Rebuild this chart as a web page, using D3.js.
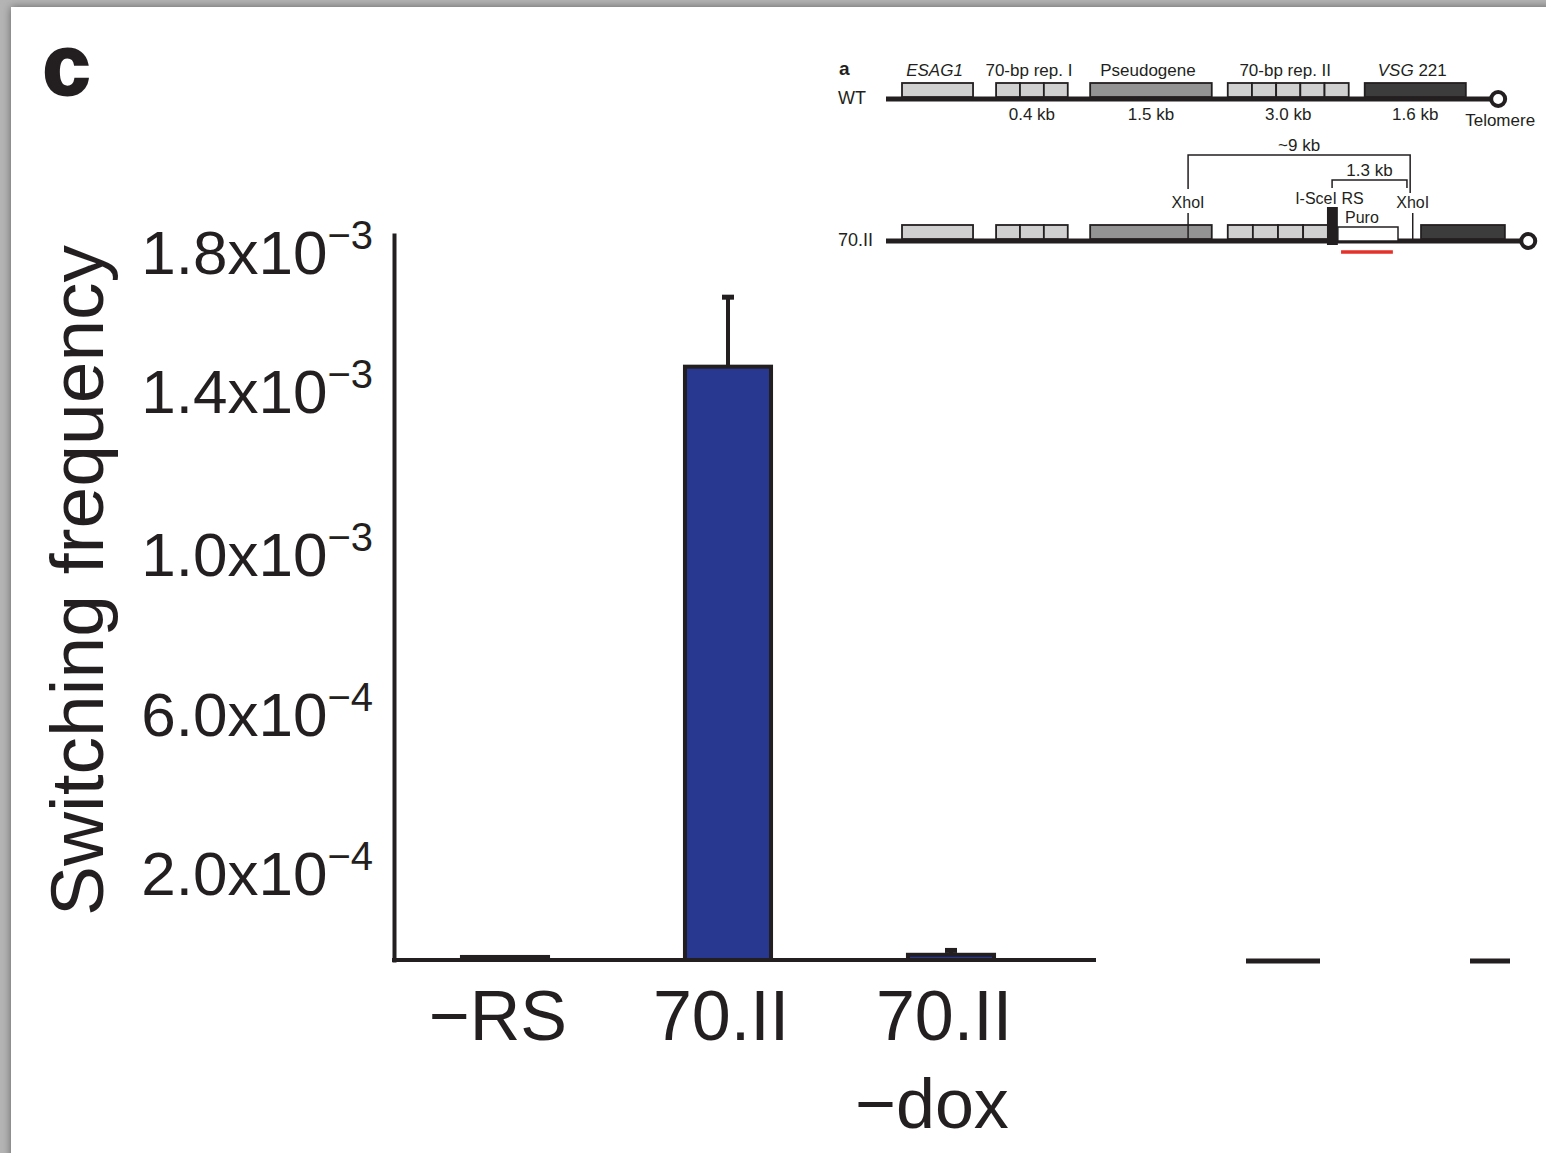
<!DOCTYPE html>
<html>
<head>
<meta charset="utf-8">
<script src="https://d3js.org/d3.v7.min.js"></script>
<style>
 body {margin:0; background:#b4b4b4; overflow:hidden;}
 svg {display:block; font-family:"Liberation Sans", Arial, Helvetica, sans-serif;}
</style>
</head>
<body>
<svg width=1546 height=1153></svg>
<script>

// panel c : bar chart
const categories = ["−RS", "70.II", "70.II −dox"];
const freqs = [0.7e-5, 1.47e-3, 1.2e-5];
const errs = [0, 2.0e-4, 1.0e-5];
const yTicks = [2e-4, 6e-4, 1.0e-3, 1.4e-3, 1.8e-3];
const yTickText = ["2.0", "6.0", "1.0", "1.4", "1.8"];
const yTickExp = ["−4", "−4", "−3", "−3", "−3"];

// panel a : locus map, positions in map units (0-100)
const featNames = ["ESAG1", "70-bp rep. I", "Pseudogene", "70-bp rep. II", "VSG 221"];
const featSizes = ["", "0.4 kb", "1.5 kb", "3.0 kb", "1.6 kb"];
const wtStart = [2.5, 17.2, 31.9, 53.4, 74.8];
const wtEnd = [13.6, 28.4, 50.9, 72.3, 90.6];
const wtCells = [1, 3, 1, 5, 1];
const mutStart = [2.5, 17.2, 31.9, 53.4, 83.6];
const mutEnd = [13.6, 28.4, 50.9, 69.1, 96.7];
const mutCells = [1, 3, 1, 4, 1];
const rowNames = ["WT", "70.II"];
const backboneEnd = [94.4, 99.1];
const sceI = [68.9, 70.6];
const puro = [70.6, 80.0];
const xhoI = [47.2, 82.3];
const probe = [71.1, 79.2];
const bracket9 = [47.2, 81.9];
const bracket13 = [69.7, 81.4];

const ink = "#231f20";
const svg = d3.select("svg");

// shadowed page
const defs = svg.append("defs");
const f = defs.append("filter").attr("id", "sh").attr("x", "-5%").attr("y", "-5%").attr("width", "110%").attr("height", "110%");
f.append("feDropShadow").attr("dx", 0).attr("dy", 0).attr("stdDeviation", 4).attr("flood-color", "#000").attr("flood-opacity", 0.45);
svg.append("rect").attr("x", 11).attr("y", 7).attr("width", 1600).attr("height", 1200)
  .attr("fill", "#fff").attr("filter", "url(#sh)");

svg.append("text").attr("x", 43).attr("y", 94).attr("font-size", 84).attr("font-weight", "bold")
  .attr("fill", ink).attr("stroke", ink).attr("stroke-width", 3).text("c");

// scales
const y = d3.scaleLinear()
  .domain([0, 2e-4, 6e-4, 1e-3, 1.4e-3, 1.8e-3, 1.85e-3])
  .range([960, 873, 714, 554, 391, 252, 235]);
const x = d3.scaleBand().domain(categories).range([393.5, 1062.5])
  .paddingInner(0.614).paddingOuter(0.307);

// bars
svg.append("g").selectAll("rect").data(categories).join("rect")
  .attr("x", d => x(d))
  .attr("width", x.bandwidth())
  .attr("y", (d, i) => y(freqs[i]))
  .attr("height", (d, i) => y(0) - y(freqs[i]))
  .attr("fill", "#283891").attr("stroke", ink).attr("stroke-width", 4);

// error bars
const eb = svg.append("g").selectAll("g").data(categories.filter((d, i) => errs[i] > 0)).join("g");
eb.append("line")
  .attr("x1", d => x(d) + x.bandwidth() / 2).attr("x2", d => x(d) + x.bandwidth() / 2)
  .attr("y1", d => y(freqs[categories.indexOf(d)]))
  .attr("y2", d => { const i = categories.indexOf(d); return y(freqs[i] + errs[i]); })
  .attr("stroke", ink).attr("stroke-width", 4);
eb.append("line")
  .attr("x1", d => x(d) + x.bandwidth() / 2 - 6).attr("x2", d => x(d) + x.bandwidth() / 2 + 6)
  .attr("y1", d => { const i = categories.indexOf(d); return y(freqs[i] + errs[i]); })
  .attr("y2", d => { const i = categories.indexOf(d); return y(freqs[i] + errs[i]); })
  .attr("stroke", ink).attr("stroke-width", 5);

// y axis
const ya = svg.append("g").attr("transform", "translate(394,0)")
  .call(d3.axisLeft(y).tickValues(yTicks).tickSize(0).tickSizeOuter(0).tickFormat(""));
ya.select(".domain").attr("stroke", ink).attr("stroke-width", 4).attr("stroke-linecap", "square");

svg.append("g").selectAll("text").data(yTicks).join("text")
  .attr("x", 373).attr("y", d => y(d) + 22)
  .attr("text-anchor", "end").attr("font-size", 62).attr("fill", ink)
  .each(function (d, i) {
    const t = d3.select(this);
    t.append("tspan").text(yTickText[i] + "x10");
    t.append("tspan").attr("dy", -25).attr("font-size", 40).text(yTickExp[i]);
  });

svg.append("text").attr("transform", "translate(103," + (y(0) + y.range()[6]) / 2 + ") rotate(-90)")
  .attr("y", 0).attr("x", 17)
  .attr("text-anchor", "middle").attr("font-size", 75).attr("fill", ink)
  .text("Switching frequency");

// x axis line and labels
svg.append("line").attr("x1", 392).attr("x2", 1096).attr("y1", y(0)).attr("y2", y(0))
  .attr("stroke", ink).attr("stroke-width", 4);
svg.append("g").selectAll("line").data([[1246, 1320], [1470, 1510]]).join("line")
  .attr("x1", d => d[0]).attr("x2", d => d[1]).attr("y1", y(0) + 1).attr("y2", y(0) + 1)
  .attr("stroke", ink).attr("stroke-width", 5);

svg.append("g").selectAll("text").data(categories).join("text")
  .attr("text-anchor", "middle").attr("font-size", 70).attr("fill", ink)
  .attr("y", 1040)
  .each(function (d) {
    const t = d3.select(this);
    const cx = x(d) + x.bandwidth() / 2 - 7;
    const parts = d === "70.II −dox" ? ["70.II", "−dox"] : [d];
    parts.forEach((p, k) => t.append("tspan").attr("x", k ? cx - 12 : cx).attr("dy", k ? 88 : 0).text(p));
  });

// ---- panel a : locus map inset ----
const mx = d3.scaleLinear().domain([0, 100]).range([886, 1526]);
const rowY = d3.scalePoint().domain(rowNames).range([99, 241]);
const fillOf = d3.scaleOrdinal().domain(featNames).range(["#d0d0d0", "#d0d0d0", "#939393", "#d0d0d0", "#3c3c3c"]);
const m = svg.append("g").attr("font-size", 17).attr("fill", ink);

m.append("text").attr("x", 839).attr("y", 75).attr("font-size", 19).attr("font-weight", "bold").text("a");

rowNames.forEach((r, ri) => {
  const yy = rowY(r);
  m.append("text").attr("x", 838).attr("y", yy + 5).attr("font-size", 18).text(r);
  m.append("line").attr("x1", mx(0)).attr("x2", mx(backboneEnd[ri])).attr("y1", yy).attr("y2", yy)
    .attr("stroke", ink).attr("stroke-width", 5);
  m.append("circle").attr("cx", mx(backboneEnd[ri]) + 8).attr("cy", yy).attr("r", 7)
    .attr("fill", "#fff").attr("stroke", ink).attr("stroke-width", 4);
  const st = ri ? mutStart : wtStart, en = ri ? mutEnd : wtEnd, ce = ri ? mutCells : wtCells;
  featNames.forEach((fn, i) => {
    const w = (mx(en[i]) - mx(st[i])) / ce[i];
    d3.range(ce[i]).forEach(k => {
      m.append("rect").attr("x", mx(st[i]) + k * w).attr("y", yy - 16).attr("width", w).attr("height", 14)
        .attr("fill", fillOf(fn)).attr("stroke", ink).attr("stroke-width", 1.8);
    });
  });
});

// feature names and sizes
const yWT = rowY("WT");
m.append("g").selectAll("text").data(featNames).join("text")
  .attr("x", (d, i) => (mx(wtStart[i]) + mx(wtEnd[i])) / 2 - 3).attr("y", yWT - 23)
  .attr("text-anchor", "middle")
  .each(function (d) {
    const t = d3.select(this);
    if (d === "ESAG1") t.append("tspan").attr("font-style", "italic").text(d);
    else if (d.startsWith("VSG")) { t.append("tspan").attr("font-style", "italic").text("VSG"); t.append("tspan").text(d.slice(3)); }
    else t.text(d);
  });
m.append("g").selectAll("text").data(featSizes).join("text")
  .attr("x", (d, i) => (mx(wtStart[i]) + mx(wtEnd[i])) / 2).attr("y", yWT + 21)
  .attr("text-anchor", "middle").text(d => d);
m.append("text").attr("x", mx(backboneEnd[0]) + 10).attr("y", yWT + 27).attr("text-anchor", "middle").text("Telomere");

// 70.II extras
const yM = rowY("70.II");
m.append("rect").attr("x", mx(puro[0])).attr("y", yM - 14).attr("width", mx(puro[1]) - mx(puro[0])).attr("height", 14)
  .attr("fill", "#fff").attr("stroke", ink).attr("stroke-width", 1.5);
m.append("rect").attr("x", mx(sceI[0])).attr("y", yM - 34).attr("width", mx(sceI[1]) - mx(sceI[0])).attr("height", 38)
  .attr("fill", ink);
m.append("line").attr("x1", mx(probe[0])).attr("x2", mx(probe[1])).attr("y1", yM + 11).attr("y2", yM + 11)
  .attr("stroke", "#e4322b").attr("stroke-width", 3.5);

xhoI.forEach(v => {
  m.append("line").attr("x1", mx(v)).attr("x2", mx(v)).attr("y1", yM - 28).attr("y2", yM)
    .attr("stroke", ink).attr("stroke-width", 1.5);
  m.append("text").attr("x", mx(v)).attr("y", yM - 33).attr("text-anchor", "middle").attr("font-size", 16).text("XhoI");
});
m.append("text").attr("x", (mx(sceI[0]) + mx(sceI[1])) / 2 - 3).attr("y", yM - 37).attr("text-anchor", "middle").attr("font-size", 16).text("I-SceI RS");
m.append("text").attr("x", (mx(puro[0]) + mx(puro[1])) / 2 - 6).attr("y", yM - 18).attr("text-anchor", "middle").attr("font-size", 16).text("Puro");

// brackets
const bracket = (b, top, drop, left, label) => {
  m.append("path")
    .attr("d", "M" + mx(b[0]) + "," + (top + left) + "V" + top + "H" + mx(b[1]) + "V" + (top + drop))
    .attr("fill", "none").attr("stroke", ink).attr("stroke-width", 1.5);
  m.append("text").attr("x", (mx(b[0]) + mx(b[1])) / 2).attr("y", top - 4).attr("text-anchor", "middle").text(label);
};
bracket(bracket9, 155, 38, 34, "~9 kb");
bracket(bracket13, 180, 8, 8, "1.3 kb");

</script>
</body>
</html>
